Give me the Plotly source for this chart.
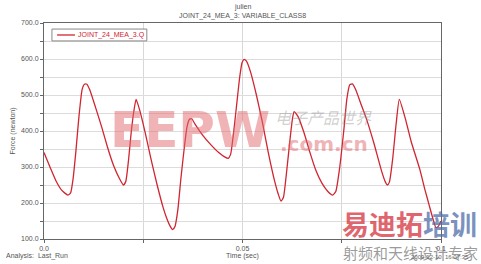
import plotly.graph_objects as go

time_sec = [0.0, 0.0015, 0.003, 0.0045, 0.006, 0.0067, 0.0073, 0.008, 0.0088, 0.0096, 0.0102,
            0.0108, 0.0115, 0.013, 0.0145, 0.016, 0.0175, 0.019, 0.020, 0.0206, 0.0213,
            0.022, 0.0227, 0.0232, 0.024, 0.0255, 0.027, 0.0285, 0.030, 0.031, 0.0318,
            0.0324, 0.033, 0.0337, 0.0345, 0.0353, 0.036, 0.0366, 0.0372, 0.038, 0.040,
            0.042, 0.044, 0.0455, 0.0464, 0.047, 0.0477, 0.0485, 0.0493, 0.0499, 0.0504,
            0.051, 0.052, 0.0535, 0.055, 0.0565, 0.058, 0.059, 0.0597, 0.0603, 0.061,
            0.062, 0.0626, 0.063, 0.064, 0.0655, 0.067, 0.0685, 0.070, 0.0715, 0.0727,
            0.0735, 0.0745, 0.0755, 0.0763, 0.077, 0.0777, 0.0785, 0.080, 0.0813, 0.083,
            0.085, 0.086, 0.0865, 0.087, 0.0878, 0.0887, 0.0895, 0.091, 0.0925, 0.0947,
            0.096, 0.097, 0.098, 0.0987, 0.0993, 0.1]
force_newton = [340, 300, 262, 235, 222, 228, 265, 340, 440, 515, 530,
                530, 515, 465, 412, 355, 305, 268, 250, 260, 320,
                400, 460, 488, 462, 395, 320, 250, 188, 155, 135,
                126, 135, 180, 270, 350, 410, 432, 434, 420, 388,
                362, 340, 328, 324, 335, 390, 470, 550, 590, 599,
                594, 565, 500, 425, 340, 265, 225, 205, 215, 275,
                380, 435, 454, 440, 395, 340, 290, 255, 232, 222,
                232, 300, 400, 490, 528, 531, 515, 470, 431, 370,
                290, 258, 250, 258, 320, 420, 488, 435, 370, 292,
                235, 195, 155, 132, 135, 150]

x_tickvals = [0.0, 0.05, 0.1]
x_ticktext = ["0.0", "0.05", "0.1"]
y_tickvals = [100, 200, 300, 400, 500, 600, 700]
y_ticktext = ["100.0", "200.0", "300.0", "400.0", "500.0", "600.0", "700.0"]
series_name = "JOINT_24_MEA_3.Q"

FONT = "Liberation Sans, Arial, sans-serif"
GRAY = "#555555"
RED = "#d02530"

fig = go.Figure()
fig.add_trace(go.Scatter(
    x=time_sec, y=force_newton, mode="lines", name=series_name, showlegend=False,
    line=dict(color=RED, width=1.3, shape="spline", smoothing=0.5),
))

fig.update_layout(
    width=481, height=264,
    margin=dict(l=44, r=40, t=23, b=25),
    paper_bgcolor="white", plot_bgcolor="white",
    showlegend=False,
    font=dict(family=FONT, size=7, color=GRAY),
)

fig.update_xaxes(
    range=[0, 0.1], tickvals=x_tickvals, ticktext=x_ticktext,
    showgrid=True, gridcolor="#d8d8d8", gridwidth=1,
    minor=dict(dtick=0.025, showgrid=True, gridcolor="#d8d8d8", ticks="outside", ticklen=3, tickcolor="#666666"),
    ticks="outside", ticklen=3, tickcolor="#666666",
    showline=True, linecolor="#666666", linewidth=1, mirror=True,
    zeroline=False, tickfont=dict(family=FONT, size=7, color=GRAY),
)
fig.update_yaxes(
    range=[100, 700], tickvals=y_tickvals, ticktext=y_ticktext,
    showgrid=True, gridcolor="#dcdcdc", gridwidth=1,
    minor=dict(dtick=50, tick0=100, showgrid=True, gridcolor="#dcdcdc", ticks="outside", ticklen=3, tickcolor="#666666"),
    ticks="outside", ticklen=3, tickcolor="#666666",
    showline=True, linecolor="#666666", linewidth=1, mirror=True,
    zeroline=False, tickfont=dict(family=FONT, size=7, color=GRAY),
    title=dict(text="Force (newton)", font=dict(family=FONT, size=7, color=GRAY), standoff=4),
)

# legend box (drawn manually to match the compact original)
fig.add_shape(type="rect", xref="paper", yref="paper", x0=0.020, x1=0.259, y0=0.917, y1=0.972,
              line=dict(color="#888888", width=1), fillcolor="white", layer="above")
fig.add_shape(type="line", xref="paper", yref="paper", x0=0.033, x1=0.078, y0=0.9445, y1=0.9445,
              line=dict(color=RED, width=1.3), layer="above")
fig.add_annotation(text=series_name, x=0.080, y=0.9445, xref="paper", yref="paper", showarrow=False,
                   xanchor="left", yanchor="middle", font=dict(size=7, color=RED))

fig.add_annotation(text="julien", x=0.5, y=1.0, xref="paper", yref="paper", yshift=10, showarrow=False,
                   font=dict(size=7, color=GRAY), xanchor="center", yanchor="bottom")
fig.add_annotation(text="JOINT_24_MEA_3: VARIABLE_CLASS8", x=0.5, y=1.0, xref="paper", yref="paper",
                   yshift=1, showarrow=False, font=dict(size=7, color=GRAY), xanchor="center", yanchor="bottom")
fig.add_annotation(text="Time (sec)", x=0.5, y=0, xref="paper", yref="paper", yshift=-23, showarrow=False,
                   font=dict(size=7, color=GRAY), xanchor="center", yanchor="bottom")
fig.add_annotation(text="Analysis:  Last_Run", x=-0.1, y=0, xref="paper", yref="paper", yshift=-23,
                   showarrow=False, font=dict(size=7, color=GRAY), xanchor="left", yanchor="bottom")
fig.add_annotation(text="2009-12-10  16:07:35", x=1.0, y=0, xref="paper", yref="paper", yshift=-23,
                   xshift=30, showarrow=False, xanchor="right", yanchor="bottom",
                   font=dict(size=6, color="#666666"))

# watermarks
fig.add_annotation(text="<b>EEPW</b>", x=0.368, y=0.505, xref="paper", yref="paper", showarrow=False,
                   font=dict(family="DejaVu Sans", size=50, color="rgba(225,105,110,0.5)"),
                   xanchor="center", yanchor="middle")
fig.add_annotation(text="<i>电子产品世界</i>", x=0.703, y=0.565, xref="paper", yref="paper", showarrow=False,
                   font=dict(family="Noto Sans CJK SC", size=16, color="rgba(150,150,150,0.45)"),
                   xanchor="center", yanchor="middle")
fig.add_annotation(text="<b>.com.cn</b>", x=0.705, y=0.44, xref="paper", yref="paper", showarrow=False,
                   font=dict(family="DejaVu Sans", size=20, color="rgba(225,105,110,0.5)"),
                   xanchor="center", yanchor="middle")
fig.add_annotation(text="<b><span style='color:rgba(215,60,70,0.8)'>易迪拓</span><span style='color:rgba(80,110,170,0.75)'>培训</span></b>",
                   x=1.0, y=0.07, xref="paper", yref="paper", xshift=38, showarrow=False,
                   font=dict(family="Noto Sans CJK SC", size=27), xanchor="right", yanchor="middle")
fig.add_annotation(text="射频和天线设计专家", x=1.0, y=0, xref="paper", yref="paper", xshift=39, yshift=-26,
                   showarrow=False, font=dict(family="Noto Sans CJK SC", size=15, color="rgba(110,110,110,0.7)"),
                   xanchor="right", yanchor="bottom")

fig.write_html("out.html")
